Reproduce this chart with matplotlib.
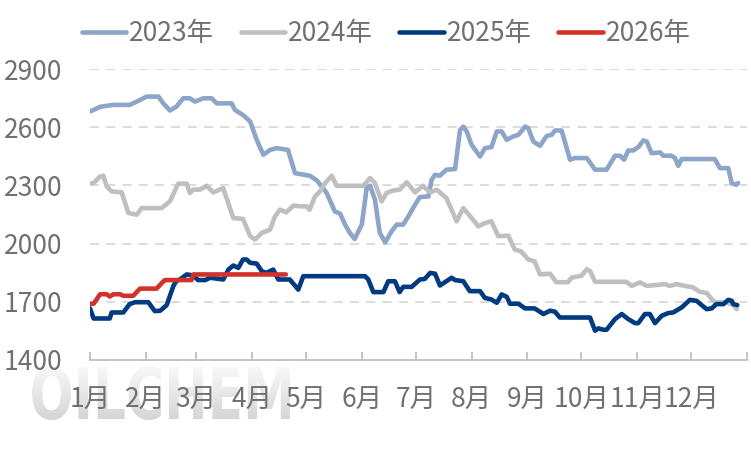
import numpy as np
import matplotlib
matplotlib.use("Agg")
from matplotlib import pyplot as plt
from matplotlib.textpath import TextPath
from matplotlib.patches import PathPatch
from matplotlib.font_manager import FontProperties
from matplotlib.transforms import Affine2D

plt.rcParams['font.family'] = ['Noto Sans CJK SC', 'DejaVu Sans']

# day of year -> price
d2023 = [0, 2, 6, 13, 22, 26, 31.5, 38, 40.7, 44.4, 48, 51.8, 55.5, 58.3, 63, 67.6, 70.4, 78.7, 80.5, 85,
         89, 92.6, 96.3, 100, 103.7, 110, 113.9, 122, 126, 128.7, 131.5, 136, 139, 141.7, 144.4, 147, 151,
         153.7, 155.6, 158.3, 161, 164, 167.6, 170.4, 174, 176.9, 180.6, 183.3, 188, 189.8, 191.7, 194.4,
         198, 202.8, 205.6, 207.4, 209.3, 212, 216.7, 219.4, 223, 226, 228.7, 231.5, 235, 238, 241.7, 243.5,
         246.3, 250, 253.7, 256.5, 258.3, 262, 266.7, 269.4, 276, 280.6, 287, 291.7, 294.4, 296.7, 299,
         301.8, 304.6, 307.4, 309.3, 312, 316.7, 318.5, 323, 325, 326.8, 328.7, 347, 350, 354.6, 356.5,
         359, 360]
v2023 = [2681, 2689, 2706, 2715, 2715, 2732, 2758, 2758, 2723, 2686, 2706, 2749, 2749, 2732, 2749, 2749,
         2723, 2723, 2689, 2663, 2629, 2535, 2458, 2483, 2492, 2483, 2363, 2350, 2326, 2295, 2261, 2166,
         2154, 2098, 2055, 2024, 2098, 2286, 2298, 2226, 2055, 2007, 2064, 2098, 2098, 2141, 2201, 2240,
         2243, 2329, 2355, 2350, 2381, 2384, 2586, 2603, 2578, 2509, 2449, 2492, 2497, 2578, 2578, 2535,
         2552, 2561, 2603, 2595, 2526, 2504, 2555, 2561, 2583, 2583, 2432, 2441, 2441, 2381, 2381, 2453,
         2453, 2432, 2480, 2480, 2497, 2532, 2526, 2466, 2470, 2453, 2453, 2441, 2401, 2436, 2436, 2389,
         2389, 2312, 2303, 2312]

d2024 = [0, 2, 5.6, 7.4, 9.3, 12, 17.6, 21.3, 26, 28.7, 39.8, 44.4, 49, 53.7, 55.5, 57.4, 61, 64.8, 68.5,
         74, 79.6, 85, 89, 91.7, 95.4, 100, 102.8, 105.6, 109, 113, 116.7, 120.4, 122, 125, 127.8, 130.6,
         134.3, 137, 151.9, 155.6, 158.3, 162, 164.8, 168.5, 172, 176, 180.6, 185, 189, 192.6, 198, 203.7,
         207.4, 212, 215.7, 219.4, 223, 226.8, 232.4, 236, 239.5, 243.5, 247, 250, 255.6, 259, 265.5,
         267.6, 273, 276, 277.8, 280.6, 298, 301, 305.6, 309.3, 319.4, 322, 325.9, 330.6, 335, 338.9,
         342.6, 345.4, 347.2, 353.7, 357.4, 359.3]
v2024 = [2309, 2312, 2346, 2350, 2295, 2269, 2264, 2158, 2149, 2183, 2183, 2218, 2309, 2309, 2261, 2278,
         2278, 2298, 2264, 2286, 2132, 2127, 2038, 2021, 2055, 2072, 2141, 2175, 2161, 2196, 2192, 2192,
         2175, 2243, 2269, 2312, 2350, 2298, 2298, 2338, 2312, 2218, 2261, 2274, 2278, 2316, 2264, 2298,
         2264, 2278, 2235, 2115, 2183, 2132, 2089, 2106, 2115, 2038, 2041, 1969, 1960, 1918, 1909, 1841,
         1845, 1801, 1801, 1825, 1834, 1868, 1859, 1803, 1803, 1782, 1800, 1782, 1791, 1782, 1791, 1782,
         1774, 1751, 1745, 1714, 1697, 1697, 1683, 1662]

d2025 = [0, 2, 11, 12, 18.5, 22, 25, 32.4, 36, 39, 42.6, 46.3, 48, 50, 53.7, 57.4, 60, 64, 66.7, 74, 76.9,
         79.6, 82.4, 85, 87, 89, 92.6, 95.4, 98, 101.8, 104.6, 111, 115.7, 118.5, 152.8, 154.6, 157.4, 163,
         165.7, 169.4, 172, 174, 178.7, 183.3, 186, 189, 191.7, 194.4, 198, 200.9, 202.8, 207.4, 211,
         216.7, 219.4, 223, 226, 228.7, 231.5, 233.3, 238, 241.7, 247, 251.9, 255.6, 258.3, 261, 277.8,
         280.6, 282.4, 285.2, 287, 291.7, 295.4, 299, 302.8, 304.6, 308.3, 311, 313.9, 317.6, 321.3, 324,
         328.7, 333.3, 337, 339.8, 342.6, 345.4, 348, 351.9, 354.6, 356.5, 357.4, 359.6]
v2025 = [1666, 1614, 1614, 1645, 1645, 1688, 1698, 1698, 1652, 1654, 1683, 1781, 1808, 1815, 1841, 1836,
         1812, 1812, 1824, 1815, 1866, 1887, 1875, 1918, 1918, 1901, 1897, 1858, 1849, 1866, 1815, 1815,
         1763, 1832, 1832, 1815, 1750, 1750, 1806, 1806, 1750, 1777, 1777, 1815, 1818, 1849, 1845, 1784,
         1806, 1824, 1812, 1806, 1755, 1755, 1720, 1712, 1695, 1738, 1726, 1690, 1690, 1666, 1666, 1637,
         1654, 1649, 1619, 1619, 1551, 1563, 1556, 1556, 1611, 1637, 1611, 1590, 1590, 1637, 1637, 1590,
         1628, 1642, 1645, 1671, 1710, 1705, 1683, 1662, 1666, 1688, 1688, 1710, 1705, 1688, 1683]

d2026 = [0, 2, 5.6, 9.3, 11, 13, 16.7, 18.5, 24, 27.8, 37, 40.7, 41.7, 56.4, 57.4, 108.8]
v2026 = [1690, 1690, 1739, 1739, 1727, 1739, 1739, 1731, 1731, 1768, 1768, 1805, 1812, 1812, 1841, 1841]

month_starts = [0, 31, 59, 90, 120, 151, 181, 212, 243, 273, 304, 334, 365]
month_labels = ['1月', '2月', '3月', '4月', '5月', '6月', '7月', '8月', '9月', '10月', '11月', '12月', '']
yticks = [1400, 1700, 2000, 2300, 2600, 2900]

series = [
    (d2023, v2023, '2023年', '#8ca5c8'),
    (d2024, v2024, '2024年', '#bfbfbf'),
    (d2025, v2025, '2025年', '#003a80'),
    (d2026, v2026, '2026年', '#d2322a'),
]

fig = plt.figure(figsize=(7.51, 4.5), dpi=100)

# watermark behind everything, in pixel coords (y down)
bg = fig.add_axes([0, 0, 1, 1], zorder=-1)
bg.set_xlim(0, 751)
bg.set_ylim(450, 0)
bg.axis('off')
tp = TextPath((0, 0), 'OILCHEM', size=100, prop=FontProperties(family='DejaVu Sans', weight='bold'))
ext = tp.get_extents()
sx = 258 / ext.width
sy = 54 / ext.height
tr = Affine2D().translate(-ext.x0, -ext.y0).scale(sx, -sy).translate(32, 420) + bg.transData
patch = PathPatch(tp, transform=tr, facecolor='none', edgecolor='none')
bg.add_patch(patch)
grad = np.linspace(0, 1, 100).reshape(-1, 1)
img = bg.imshow(grad, cmap=matplotlib.colors.LinearSegmentedColormap.from_list('wm', ['#d4d4d4', '#fafafa']),
                extent=(28, 295, 365, 421), aspect='auto', origin='upper', zorder=0)
img.set_clip_path(patch)
bg.set_xlim(0, 751)
bg.set_ylim(450, 0)

ax = fig.add_axes([90 / 751, 90 / 450, 657 / 751, 291 / 450])
ax.patch.set_alpha(0)

for d, v, name, c in series:
    ax.plot(d, v, color=c, lw=3.3, label=name, solid_joinstyle='round', solid_capstyle='round')

ax.set_xlim(0, 365)
ax.set_ylim(1400, 2900)
ax.set_xticks(month_starts)
ax.set_xticklabels(month_labels)
ax.set_yticks(yticks)

for y in yticks[1:]:
    ax.axhline(y, color='#d9d9d9', lw=1.3, ls=(0, (5, 4)), zorder=0)

for s in ['top', 'right', 'left']:
    ax.spines[s].set_visible(False)
ax.spines['bottom'].set_color('#bfbfbf')
ax.spines['bottom'].set_linewidth(1.3)

ax.tick_params(axis='x', direction='in', length=6, width=1.3, color='#bfbfbf',
               labelsize=19, labelcolor='#707070', pad=19)
ax.tick_params(axis='y', length=0, labelsize=19, labelcolor='#707070', pad=20)

fig.legend(loc='center', bbox_to_anchor=(0.514, 0.925), ncol=4, frameon=False, fontsize=19,
           handlelength=1.7, handletextpad=0.1, columnspacing=1.0, labelcolor='#707070')

fig.savefig('out.png', dpi=100)
